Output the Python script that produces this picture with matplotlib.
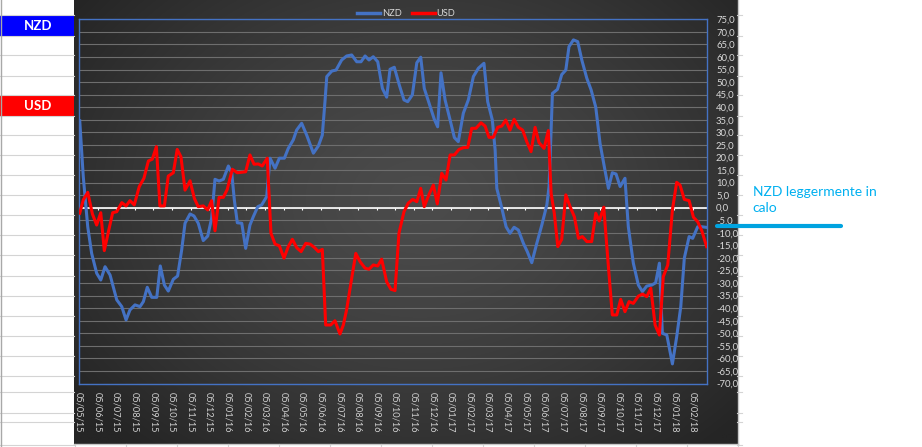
import numpy as np
import matplotlib
matplotlib.use("Agg")
import matplotlib.pyplot as plt
from matplotlib.lines import Line2D

plt.rcParams['font.family'] = ['Lato', 'DejaVu Sans']

# ---------------- data (x = months since 05/05/15) ----------------
nzd_month = [0.04, 0.23, 0.47, 0.68, 0.95, 1.17, 1.40, 1.67, 2.03, 2.30, 2.53, 2.74, 3.01, 3.28, 3.46,
             3.67, 3.91, 4.18, 4.37, 4.59, 4.80, 5.07, 5.30, 5.52, 5.70, 5.97, 6.18, 6.41, 6.68, 6.92,
             7.13, 7.31, 7.53, 7.76, 8.03, 8.21, 8.35, 8.51, 8.75, 8.96, 9.19, 9.37, 9.61, 9.82, 10.09,
             10.27, 10.54, 10.77, 11.04, 11.25, 11.52, 11.70, 11.97, 12.24, 12.60, 12.87, 13.08, 13.23,
             13.32, 13.59, 13.82, 14.12, 14.39, 14.66, 14.93, 15.16, 15.38, 15.59, 15.82, 16.06, 16.31,
             16.54, 16.72, 16.95, 17.22, 17.47, 17.67, 17.92, 18.16, 18.37, 18.56, 18.87, 19.10, 19.28,
             19.46, 19.68, 19.95, 20.18, 20.39, 20.66, 20.93, 21.20, 21.47, 21.77, 21.97, 22.22, 22.37,
             22.46, 22.73, 22.96, 23.17, 23.39, 23.62, 23.89, 24.10, 24.34, 24.61, 24.88, 25.15, 25.27,
             25.38, 25.45, 25.72, 25.95, 26.17, 26.34, 26.58, 26.81, 27.03, 27.30, 27.53, 27.78, 28.01,
             28.24, 28.46, 28.67, 28.87, 29.09, 29.35, 29.53, 29.80, 30.07, 30.29, 30.52, 30.79, 31.00,
             31.20, 31.36, 31.60, 31.90, 32.13, 32.35, 32.54, 32.80, 32.99, 33.26, 33.48, 33.69]
nzd_value = [34.6, 12.3, -7.6, -18.2, -26.1, -28.8, -23.5, -26.8, -36.7, -39.4, -44.7, -40.7, -38.7, -39.4, -37.4,
             -31.7, -35.7, -35.7, -23.2, -30.8, -33.2, -28.5, -27.2, -16.8, -6.2, -2.5, -3.3, -6.2, -13.1, -11.3,
             -4.2, 11.3, 10.6, 11.3, 16.6, 13.9, 3.1, -6.0, -6.2, -16.2, -6.9, -3.6, 0.4, 1.1, 4.4,
             19.7, 15.7, 19.7, 19.7, 23.6, 27.0, 30.9, 33.6, 28.9, 21.7, 24.6, 28.9, 42.9,
             52.2, 54.4, 54.8, 58.8, 60.4, 60.8, 58.1, 58.1, 60.4, 58.8, 60.1, 58.1, 47.5,
             44.0, 55.1, 55.9, 48.8, 42.9, 42.2, 44.9, 57.7, 59.9, 47.5, 40.5, 35.2, 32.2,
             53.7, 42.9, 34.9, 27.9, 26.3, 37.6, 42.9, 52.2, 55.5, 57.5, 42.2, 34.9, 23.0,
             7.7, -0.2, -7.6, -10.2, -7.8, -8.9, -14.2, -17.5, -21.9, -14.2, -6.9, 1.1, 8.4,
             30.9, 45.5, 47.1, 53.0, 54.8, 64.1, 66.8, 66.1, 58.8, 51.5, 46.9, 40.0, 25.6,
             16.3, 7.7, 13.9, 13.4, 8.4, 11.7, -7.6, -22.1, -30.8, -33.4, -31.2, -30.8, -29.9,
             -22.1, -50.0, -50.7, -62.2, -51.4, -39.4, -20.1, -11.5, -12.2, -7.6, -7.6, -7.8]

usd_month = [0.04, 0.23, 0.47, 0.72, 0.95, 1.17, 1.36, 1.58, 1.81, 2.03, 2.30, 2.53, 2.74, 2.97, 3.24,
             3.49, 3.73, 3.94, 4.16, 4.35, 4.59, 4.80, 5.07, 5.28, 5.48, 5.70, 5.97, 6.20, 6.41, 6.68,
             6.92, 7.13, 7.31, 7.53, 7.76, 7.97, 8.24, 8.51, 8.96, 9.19, 9.41, 9.64, 9.85, 10.12, 10.32,
             10.54, 10.77, 11.02, 11.25, 11.47, 11.70, 11.94, 12.19, 12.42, 12.65, 12.87, 13.08, 13.26,
             13.53, 13.76, 14.03, 14.21, 14.39, 14.62, 14.88, 15.11, 15.38, 15.59, 15.82, 16.06, 16.27,
             16.54, 16.77, 16.99, 17.20, 17.47, 17.70, 17.94, 18.16, 18.37, 18.56, 18.83, 19.05, 19.26,
             19.50, 19.73, 19.95, 20.18, 20.43, 20.66, 20.90, 21.11, 21.34, 21.61, 21.83, 22.04, 22.27,
             22.51, 22.73, 22.94, 23.17, 23.39, 23.62, 23.85, 24.07, 24.30, 24.52, 24.73, 25.00, 25.23,
             25.38, 25.55, 25.74, 25.95, 26.17, 26.40, 26.63, 26.85, 27.06, 27.30, 27.56, 27.78, 27.97,
             28.21, 28.46, 28.67, 28.91, 29.12, 29.35, 29.57, 29.80, 30.07, 30.29, 30.52, 30.74, 30.97,
             31.20, 31.41, 31.65, 31.90, 32.13, 32.31, 32.54, 32.80, 33.03, 33.26, 33.48, 33.74]
usd_value = [-2.2, 3.1, 6.1, -2.5, -6.9, -2.0, -17.1, -9.6, -2.0, -1.6, 2.0, 0.7, 2.8, 1.1, 8.4,
             11.7, 18.6, 19.3, 24.3, 0.7, 0.7, 12.6, 13.9, 23.2, 20.3, 7.0, 10.7, 3.7, 0.4, 0.7,
             -0.9, 2.8, -9.2, 4.1, 4.1, 7.3, 15.3, 13.9, 14.3, 21.0, 17.3, 17.4, 16.6, 19.7, -10.2,
             -14.5, -15.2, -20.1, -15.5, -12.6, -15.9, -17.5, -14.2, -14.5, -15.8, -17.5, -16.6, -46.7,
             -46.7, -45.0, -50.3, -46.7, -40.5, -29.9, -18.2, -21.5, -24.1, -24.5, -22.8, -23.2, -20.5,
             -29.5, -32.5, -33.0, -10.2, -1.6, 1.8, 3.3, 2.4, 7.7, 0.4, 5.5, 9.0, 1.5,
             13.7, 11.0, 21.0, 21.0, 23.2, 23.9, 24.0, 31.6, 31.6, 33.8, 32.5, 28.0, 28.0,
             32.0, 32.5, 34.9, 30.9, 35.2, 32.0, 30.9, 26.3, 22.3, 32.0, 25.9, 23.6, 30.7,
             5.7, -2.2, -15.5, -12.6, 5.1, 0.4, -3.6, -12.2, -11.5, -13.5, -13.5, -2.2, -5.3,
             0.2, -23.5, -42.7, -42.7, -36.5, -41.4, -37.4, -38.1, -35.2, -34.4, -35.4, -32.1, -46.7,
             -50.7, -27.5, -22.8, -0.9, 10.1, 9.0, 3.3, 2.8, -3.8, -5.6, -9.2, -15.5]

month_labels = ["05/05/15", "05/06/15", "05/07/15", "05/08/15", "05/09/15", "05/10/15", "05/11/15",
                "05/12/15", "05/01/16", "05/02/16", "05/03/16", "05/04/16", "05/05/16", "05/06/16",
                "05/07/16", "05/08/16", "05/09/16", "05/10/16", "05/11/16", "05/12/16", "05/01/17",
                "05/02/17", "05/03/17", "05/04/17", "05/05/17", "05/06/17", "05/07/17", "05/08/17",
                "05/09/17", "05/10/17", "05/11/17", "05/12/17", "05/01/18", "05/02/18"]
y_ticks = list(range(-70, 80, 5))
series_names = ["NZD", "USD"]
note_text = "NZD leggermente in\ncalo"

# ---------------- figure ----------------
W, H = 922, 447
fig = plt.figure(figsize=(W / 100, H / 100), dpi=100)
fig.patch.set_facecolor("white")

bg = fig.add_axes([0, 0, 1, 1], zorder=0)
bg.set_xlim(0, W)
bg.set_ylim(H, 0)
bg.axis("off")

# excel-like rows on the left / right
row_y = [15, 35.7, 55, 75.7, 95, 115.7, 135, 155, 175, 195, 215, 235, 255, 275.7, 295.7, 315.7,
         335.7, 355.7, 375.7, 391.7, 413.3, 422.3, 445]
for yy in row_y:
    bg.plot([0, 74], [yy, yy], color="#d4d4d4", lw=0.8)
    bg.plot([737, 742], [yy, yy], color="#d4d4d4", lw=0.8)
bg.plot([0.6, 0.6], [0, H], color="#a8a8a8", lw=1.0)
for xx in np.arange(75, 740, 51):
    bg.plot([xx, xx], [444, H], color="#d4d4d4", lw=0.8)

# currency boxes
bg.add_patch(plt.Rectangle((0, 15), 74, 20.7, color="#0000ff", lw=0))
bg.text(38, 25.6, series_names[0], color="white", fontsize=9.5, fontweight="bold", ha="center", va="center")
bg.add_patch(plt.Rectangle((0, 95), 74, 20.7, color="#ff0000", lw=0))
bg.text(38, 105.6, series_names[1], color="white", fontsize=9.5, fontweight="bold", ha="center", va="center")

# dark gradient chart area
x0, x1, y0, y1 = 74, 737, 0, 444
gx = np.linspace(x0, x1, 400)
gy = np.linspace(y0, y1, 300)
GX, GY = np.meshgrid(gx, gy)
d = np.sqrt(((GX - 420) / 430) ** 2 + ((GY - 200) / 330) ** 2)
d = np.clip(d, 0, 1)
val = (0x4b - (0x4b - 0x25) * d ** 1.4) / 255.0
img = np.dstack([val, val, val])
bg.imshow(img, extent=[x0, x1, y1, y0], aspect="auto", interpolation="bilinear")
bg.plot([737.5, 737.5], [0, 444], color="#c8c8c8", lw=1.0)
bg.plot([74, 737.5], [444, 444], color="#c8c8c8", lw=1.0)
bg.set_xlim(0, W)
bg.set_ylim(H, 0)

# ---------------- main axes ----------------
left_px, right_px, top_px, bot_px = 79, 707, 19.3, 383.5
ax = fig.add_axes([left_px / W, (H - bot_px) / H, (right_px - left_px) / W, (bot_px - top_px) / H], zorder=2)
ax.set_facecolor("none")
ax.set_xlim(0, 33.76)
ax.set_ylim(-70, 75)

ax.set_yticks(y_ticks)
ax.set_yticklabels([f"{v:.1f}".replace(".", ",") for v in y_ticks])
ax.yaxis.tick_right()
ax.yaxis.grid(True, color="#6e6e6e", lw=0.8)
ax.set_axisbelow(True)
ax.tick_params(axis="y", length=0, pad=6.5, labelsize=6.8, labelcolor="#d9d9d9")

months = np.arange(len(month_labels))
ax.set_xticks(months)
ax.set_xticklabels(month_labels, rotation=-90, ha="center", va="top")
ax.tick_params(axis="x", length=0, pad=6, labelsize=6.7, labelcolor="#d0d0d0")

for s in ax.spines.values():
    s.set_color("#4472c4")
    s.set_linewidth(1.0)

ax.axhline(0, color="white", lw=1.2, zorder=2)
ax.vlines(months, -1.1, 0, color="white", lw=0.8, zorder=2)

ax.plot(nzd_month, nzd_value, color="#4472c4", lw=2.2, zorder=3, solid_joinstyle="round")
ax.plot(usd_month, usd_value, color="#ff0000", lw=2.2, zorder=4, solid_joinstyle="round")

handles = [Line2D([0], [0], color="#4472c4", lw=2.5), Line2D([0], [0], color="#ff0000", lw=2.5)]
ax.legend(handles, series_names, loc="center", bbox_to_anchor=(0.521, 1.0146), ncol=2, frameon=False,
          fontsize=6.7, handlelength=2.5, handletextpad=0.15, columnspacing=1.1, labelcolor="#d9d9d9",
          borderaxespad=0, borderpad=0)

# ---------------- overlay: annotation ----------------
ov = fig.add_axes([0, 0, 1, 1], zorder=5)
ov.set_xlim(0, W)
ov.set_ylim(H, 0)
ov.axis("off")
ov.patch.set_alpha(0)
ov.plot([716.7, 840.7], [226.3, 226.3], color="#00a3e0", lw=3.0, solid_capstyle="round")
ov.text(752.5, 186.5, note_text, color="#00b0f0", fontsize=10, ha="left", va="top", linespacing=1.35)

fig.savefig("out.png", dpi=100)
